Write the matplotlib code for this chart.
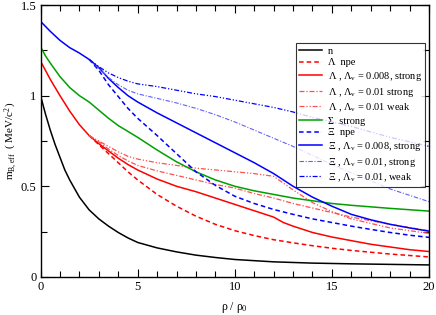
import numpy as np
import matplotlib
matplotlib.use("Agg")
import matplotlib.pyplot as plt
from matplotlib.ticker import MultipleLocator

plt.rcParams["font.family"] = ["Liberation Serif", "DejaVu Serif"]
plt.rcParams["mathtext.fontset"] = "custom"
plt.rcParams["mathtext.rm"] = "Liberation Serif"
plt.rcParams["mathtext.it"] = "Liberation Serif:italic"

# data
# nucleons
x_n = [0, 0.25, 0.5, 0.75, 1, 1.25, 1.5, 2, 2.5, 3, 3.5, 4, 4.5, 5, 6, 7, 8, 9, 10, 12, 14, 16, 18, 20]
y_n = [1.0, 0.9, 0.81, 0.73, 0.66, 0.59, 0.535, 0.44, 0.37, 0.32, 0.28, 0.245, 0.215, 0.19,
       0.16, 0.138, 0.12, 0.107, 0.096, 0.083, 0.076, 0.072, 0.069, 0.066]

# Lambda, common part then branches
x_lam = [0, 0.5, 1, 1.5, 2, 2.5, 3, 3.5, 4, 4.5, 5, 6, 7, 8, 9, 10, 11, 12, 12.5, 13, 14,
         15, 16, 17, 18, 19, 20]
y_lam_008 = [1.19, 1.09, 1.0, 0.915, 0.84, 0.78, 0.735, 0.695, 0.655, 0.62, 0.59, 0.54, 0.50,
             0.47, 0.435, 0.40, 0.365, 0.33, 0.30, 0.28, 0.245, 0.22, 0.20, 0.18, 0.165, 0.15, 0.14]
x_lam_b = [2.5, 3, 3.5, 4, 4.5, 5, 6, 7, 8, 9, 10, 11, 12, 13, 14, 15, 16, 18, 20]
y_lam_npe = [0.78, 0.73, 0.68, 0.63, 0.58, 0.535, 0.455, 0.39, 0.335, 0.29, 0.255, 0.228,
             0.205, 0.188, 0.172, 0.158, 0.146, 0.126, 0.11]
y_lam_01s = [0.78, 0.745, 0.705, 0.67, 0.64, 0.615, 0.585, 0.56, 0.535, 0.51, 0.49, 0.46,
             0.435, 0.405, 0.38, 0.355, 0.33, 0.29, 0.255]
y_lam_01w = [0.78, 0.75, 0.72, 0.69, 0.665, 0.65, 0.63, 0.615, 0.60, 0.59, 0.58, 0.57,
             0.555, 0.48, 0.41, 0.36, 0.32, 0.27, 0.24]

# Sigma
x_sig = [0, 0.25, 0.5, 1, 1.5, 2, 2.5, 3, 3.5, 4, 5, 6, 7, 8, 9, 10, 11, 12, 13, 14, 15, 16, 18, 20]
y_sig = [1.27, 1.22, 1.18, 1.105, 1.045, 1.0, 0.965, 0.92, 0.875, 0.835, 0.77, 0.70, 0.635,
         0.58, 0.535, 0.50, 0.475, 0.455, 0.435, 0.42, 0.405, 0.395, 0.378, 0.363]

# Xi, common part then branches
x_xi = [0, 0.5, 1, 1.5, 2, 2.5, 3, 3.5, 4, 4.5, 5, 6, 7, 8, 9, 10, 11, 12, 12.5, 13, 14, 15,
        16, 17, 18, 19, 20]
y_xi_008 = [1.41, 1.355, 1.305, 1.265, 1.235, 1.20, 1.155, 1.095, 1.045, 1.0, 0.965, 0.905,
            0.85, 0.795, 0.74, 0.685, 0.63, 0.57, 0.535, 0.50, 0.44, 0.39, 0.345, 0.315, 0.29,
            0.27, 0.252]
x_xi_b = [2.5, 3, 3.5, 4, 4.5, 5, 6, 7, 8, 9, 10, 11, 12, 13, 14, 15, 16, 17, 18, 19, 20]
y_xi_npe = [1.2, 1.14, 1.06, 0.995, 0.93, 0.875, 0.78, 0.68, 0.58, 0.505, 0.445, 0.405, 0.372,
            0.345, 0.32, 0.30, 0.28, 0.262, 0.245, 0.23, 0.218]
y_xi_01s = [1.2, 1.15, 1.1, 1.06, 1.03, 1.01, 0.985, 0.96, 0.93, 0.895, 0.855, 0.81, 0.765,
            0.72, 0.67, 0.62, 0.575, 0.53, 0.485, 0.45, 0.415]
y_xi_01w = [1.2, 1.16, 1.125, 1.1, 1.08, 1.065, 1.05, 1.03, 1.01, 0.995, 0.975, 0.955, 0.935,
            0.91, 0.88, 0.855, 0.83, 0.80, 0.77, 0.745, 0.72]

fig, ax = plt.subplots(figsize=(4.36, 3.15), dpi=100)
fig.subplots_adjust(left=0.093, right=0.984, top=0.984, bottom=0.121)

red = "#ff0000"
red_l = "#ff5050"
blue = "#0000ff"
blue_l = "#6060ff"
green = "#00a000"
dd1 = (0, (4, 1.5, 1, 1.5))
dd2 = (0, (4, 1.5, 1, 1.5, 1, 1.5))

ax.plot(x_n, y_n, color="black", lw=1.1, label="n")
ax.plot(x_lam_b, y_lam_npe, color=red, lw=1.1, ls=(0, (3, 2)), label="Λ  npe")
ax.plot(x_lam, y_lam_008, color=red, lw=1.1, label="Λ , Λ$_{\\mathrm{v}}$ = 0.008, strong")
ax.plot(x_lam_b, y_lam_01s, color=red_l, lw=0.9, ls=dd1, label="Λ , Λ$_{\\mathrm{v}}$ = 0.01 strong")
ax.plot(x_lam_b, y_lam_01w, color=red_l, lw=0.9, ls=dd2, label="Λ , Λ$_{\\mathrm{v}}$ = 0.01 weak")
ax.plot(x_sig, y_sig, color=green, lw=1.1, label="Σ  strong")
ax.plot(x_xi_b, y_xi_npe, color=blue, lw=1.1, ls=(0, (3, 2)), label="Ξ  npe")
ax.plot(x_xi, y_xi_008, color=blue, lw=1.1, label="Ξ , Λ$_{\\mathrm{v}}$ = 0.008, strong")
ax.plot(x_xi_b, y_xi_01s, color=blue_l, lw=0.8, ls=dd1, label="Ξ , Λ$_{\\mathrm{v}}$ = 0.01, strong")
ax.plot(x_xi_b, y_xi_01w, color=blue, lw=0.9, ls=dd2, label="Ξ , Λ$_{\\mathrm{v}}$ = 0.01, weak")

ax.set_xlim(0, 20)
ax.set_ylim(0, 1.5)
ax.xaxis.set_major_locator(MultipleLocator(5))
ax.xaxis.set_minor_locator(MultipleLocator(1))
ax.yaxis.set_major_locator(MultipleLocator(0.5))
ax.yaxis.set_minor_locator(MultipleLocator(0.25))
ax.set_yticks([0, 0.5, 1, 1.5], ["0", "0.5", "1", "1.5"])
ax.tick_params(which="both", direction="in", top=True, right=True, labelsize=9, width=0.8)
ax.tick_params(which="major", length=6, pad=3)
ax.tick_params(which="minor", length=4)
for s in ax.spines.values():
    s.set_linewidth(1.0)

ax.set_xlabel("ρ / ρ$_0$", fontsize=8.5, labelpad=5)
ax.set_ylabel("m$_{\\mathrm{B,eff}}$  ( MeV/c$^2$)", fontsize=8, labelpad=1)

leg = ax.legend(loc="upper right", bbox_to_anchor=(0.99, 0.86), fontsize=7.5,
                frameon=True, fancybox=False, edgecolor="black", handlelength=2.2,
                handletextpad=0.6, labelspacing=0.25, borderpad=0.3, borderaxespad=0)
leg.get_frame().set_linewidth(0.8)

fig.savefig("out.png", dpi=100)
